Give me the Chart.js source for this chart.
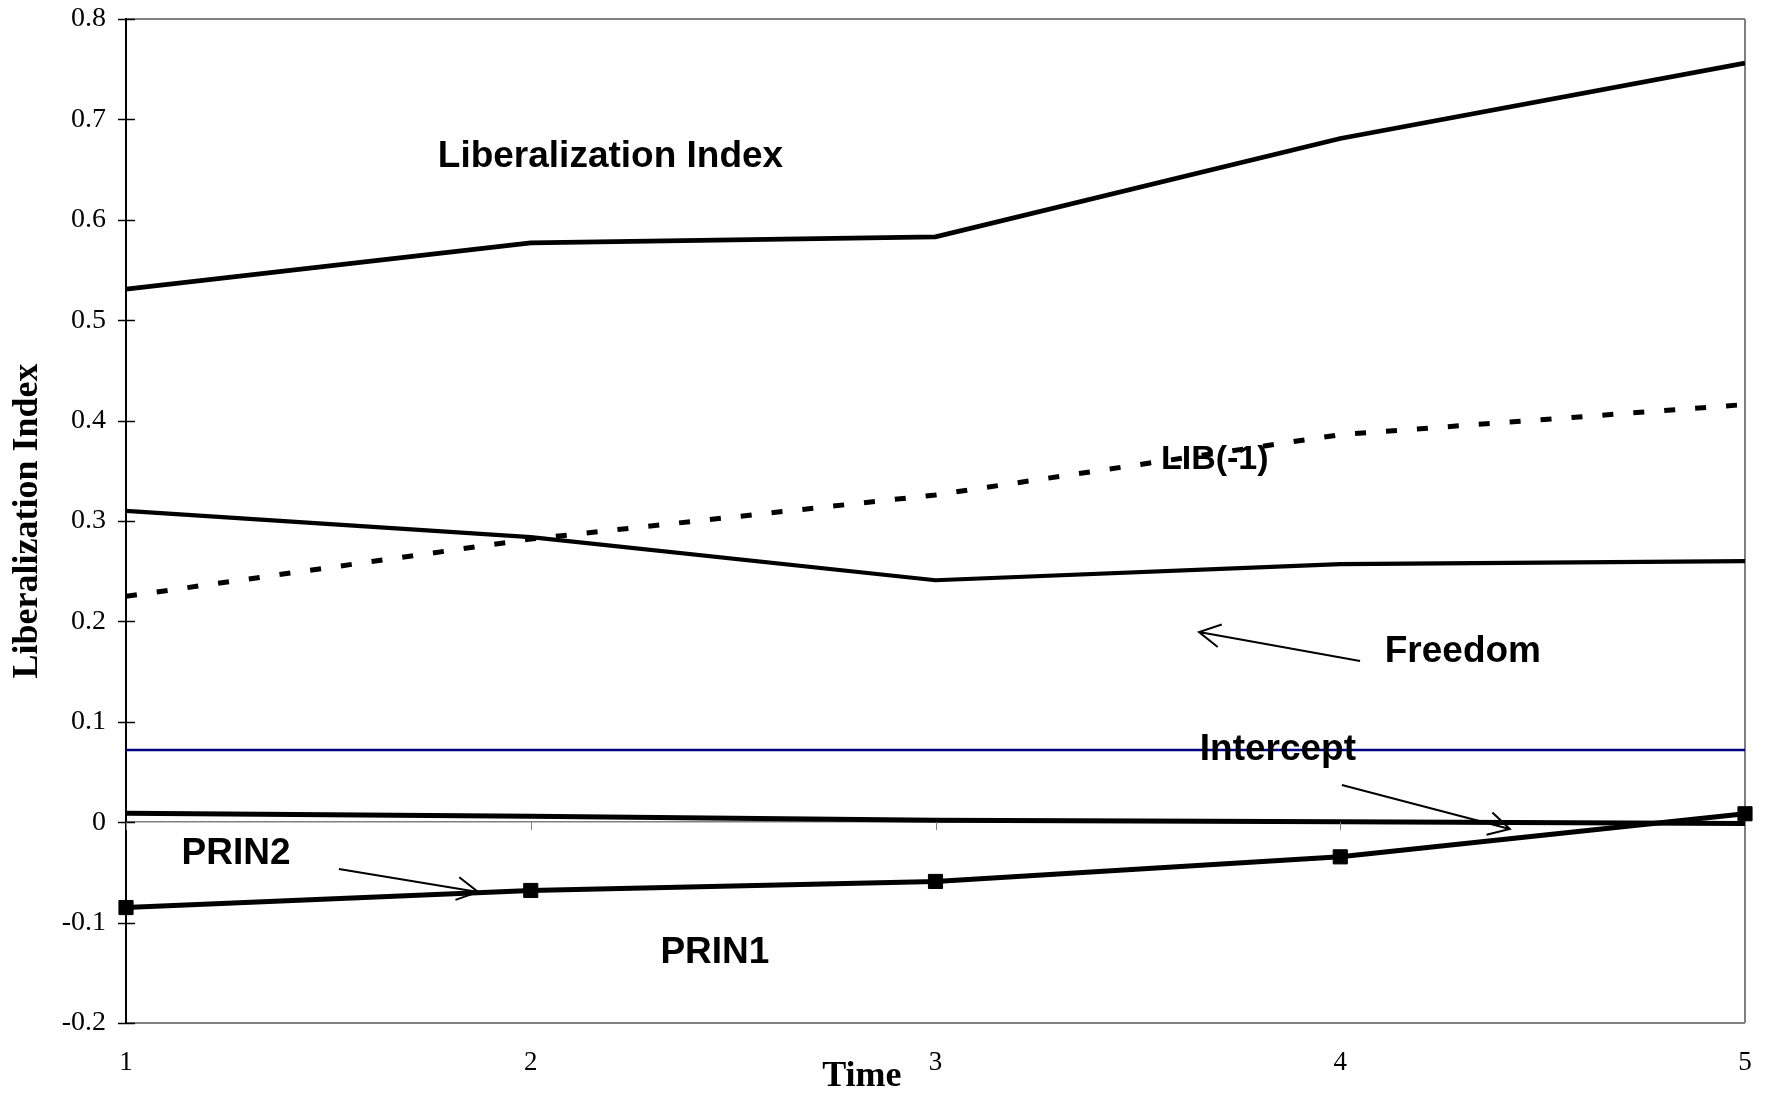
<!DOCTYPE html>
<html>
<head>
<meta charset="utf-8">
<script src="https://cdn.jsdelivr.net/npm/chart.js@4.4.1/dist/chart.umd.min.js"></script>
<style>
  html, body { margin: 0; padding: 0; background: #fff; }
  canvas { display: block; }
</style>
</head>
<body>
<canvas id="libChart" width="1765" height="1093"></canvas>
<script>
// data
const timeSteps = [1, 2, 3, 4, 5];
const timeLabels = ["1", "2", "3", "4", "5"];
const libIndex = [0.531, 0.577, 0.583, 0.681, 0.756];
const libLag = [0.225, 0.282, 0.326, 0.386, 0.416];
const freedom = [0.310, 0.284, 0.241, 0.257, 0.260];
const intercept = [0.072, 0.072, 0.072, 0.072, 0.072];
const prin2 = [0.009, 0.006, 0.002, 0.0005, -0.0013];
const prin1 = [-0.085, -0.068, -0.059, -0.0345, 0.0084];
const yTickValues = [-0.2, -0.1, 0, 0.1, 0.2, 0.3, 0.4, 0.5, 0.6, 0.7, 0.8];
const yTickLabels = ["-0.2", "-0.1", "0", "0.1", "0.2", "0.3", "0.4", "0.5", "0.6", "0.7", "0.8"];

const serif = "'Liberation Serif', 'Times New Roman', serif";
const sans = "'Liberation Sans', Arial, sans-serif";

// labels and arrows placed in data units
const notes = [
  { text: "Liberalization Index", x: 2.197, y: 0.6625, size: 37 },
  { text: "LIB(-1)", x: 3.69, y: 0.361, size: 34 },
  { text: "Freedom", x: 4.303, y: 0.1695, size: 37 },
  { text: "Intercept", x: 3.846, y: 0.072, size: 37 },
  { text: "PRIN2", x: 1.272, y: -0.0317, size: 37 },
  { text: "PRIN1", x: 2.455, y: -0.130, size: 37 },
];
const arrows = [
  { from: [4.049, 0.1606], to: [3.651, 0.1894] },
  { from: [4.004, 0.0371], to: [4.419, -0.0068] },
  { from: [1.526, -0.0466], to: [1.870, -0.0695] },
];

function pts(values) {
  return values.map((v, i) => ({ x: timeSteps[i], y: v }));
}

function near(a, b) {
  return Math.abs(a - b) < 1e-6;
}

const overlay = {
  id: "overlay",
  afterDraw(chart) {
    const { ctx, chartArea } = chart;
    const x = chart.scales.x;
    const y = chart.scales.y;
    ctx.save();

    // value axis ticks crossing the axis
    ctx.strokeStyle = "#000";
    ctx.lineWidth = 1.5;
    yTickValues.forEach(v => {
      const py = Math.round(y.getPixelForValue(v)) + 0.5;
      ctx.beginPath();
      ctx.moveTo(chartArea.left - 8, py);
      ctx.lineTo(chartArea.left + 9, py);
      ctx.stroke();
    });

    // category ticks hanging from the zero line
    ctx.strokeStyle = "#808080";
    ctx.lineWidth = 1;
    const y0 = y.getPixelForValue(0);
    timeSteps.forEach(t => {
      const px = Math.round(x.getPixelForValue(t)) + 0.5;
      ctx.beginPath();
      ctx.moveTo(px, y0);
      ctx.lineTo(px, y0 + 8);
      ctx.stroke();
    });

    // arrows
    ctx.strokeStyle = "#000";
    ctx.lineWidth = 2;
    arrows.forEach(a => {
      const x1 = x.getPixelForValue(a.from[0]), y1 = y.getPixelForValue(a.from[1]);
      const x2 = x.getPixelForValue(a.to[0]), y2 = y.getPixelForValue(a.to[1]);
      const ang = Math.atan2(y1 - y2, x1 - x2);
      ctx.beginPath();
      ctx.moveTo(x1, y1);
      ctx.lineTo(x2, y2);
      ctx.moveTo(x2 + 24 * Math.cos(ang - 0.5), y2 + 24 * Math.sin(ang - 0.5));
      ctx.lineTo(x2, y2);
      ctx.lineTo(x2 + 24 * Math.cos(ang + 0.5), y2 + 24 * Math.sin(ang + 0.5));
      ctx.stroke();
    });

    // text labels
    ctx.fillStyle = "#000";
    ctx.textAlign = "center";
    ctx.textBaseline = "middle";
    notes.forEach(n => {
      ctx.font = "bold " + n.size + "px " + sans;
      ctx.fillText(n.text, x.getPixelForValue(n.x), y.getPixelForValue(n.y));
    });

    // category axis title
    ctx.font = "bold 36px " + serif;
    ctx.fillText("Time", x.getPixelForValue(2.818), chartArea.bottom + 54);
    ctx.restore();
  }
};

new Chart(document.getElementById("libChart").getContext("2d"), {
  type: "line",
  data: {
    datasets: [
      { label: "PRIN1", data: pts(prin1), borderColor: "#000", backgroundColor: "#000",
        borderWidth: 5, pointStyle: "rect", pointRadius: 10, pointBorderWidth: 1, clip: false },
      { label: "PRIN2", data: pts(prin2), borderColor: "#000", borderWidth: 5, pointRadius: 0 },
      { label: "Intercept", data: pts(intercept), borderColor: "#000080", borderWidth: 2.5, pointRadius: 0 },
      { label: "Freedom", data: pts(freedom), borderColor: "#000", borderWidth: 4.2, pointRadius: 0 },
      { label: "LIB(-1)", data: pts(libLag), borderColor: "#000", borderWidth: 5,
        borderDash: [11, 20], pointRadius: 0 },
      { label: "Liberalization Index", data: pts(libIndex), borderColor: "#000", borderWidth: 4.7, pointRadius: 0 },
    ],
  },
  options: {
    responsive: false,
    animation: false,
    devicePixelRatio: 1,
    layout: { padding: { top: 19, right: 20, left: 0, bottom: 0 } },
    elements: { line: { tension: 0 } },
    plugins: {
      legend: { display: false },
      tooltip: { enabled: false },
    },
    scales: {
      x: {
        type: "linear",
        min: 1,
        max: 5,
        afterBuildTicks: s => { s.ticks = timeSteps.map(v => ({ value: v })); },
        afterFit: s => { s.height = 70; s.paddingLeft = 0; s.paddingRight = 0; },
        ticks: {
          callback: (v) => timeLabels[timeSteps.indexOf(v)],
          color: "#000",
          font: { family: serif, size: 27 },
          padding: 24,
          maxRotation: 0,
        },
        grid: {
          drawTicks: false,
          color: c => (c.tick && near(c.tick.value, 5) ? "#808080" : "rgba(0,0,0,0)"),
          lineWidth: 2,
        },
        border: { display: false },
      },
      y: {
        min: -0.2,
        max: 0.8,
        afterBuildTicks: s => { s.ticks = yTickValues.map(v => ({ value: v })); },
        afterFit: s => { s.width = 126; s.paddingTop = 0; s.paddingBottom = 0; },
        ticks: {
          callback: (v) => yTickLabels[yTickValues.findIndex(t => near(t, v))],
          color: "#000",
          font: { family: serif, size: 28 },
          padding: 20,
        },
        grid: {
          drawTicks: false,
          color: c => {
            const v = c.tick ? c.tick.value : NaN;
            return near(v, 0.8) || near(v, -0.2) || near(v, 0) ? "#808080" : "rgba(0,0,0,0)";
          },
          lineWidth: c => (c.tick && near(c.tick.value, 0) ? 1.5 : 2),
        },
        border: { display: true, color: "#000", width: 2 },
        title: {
          display: true,
          text: "Liberalization Index",
          color: "#000",
          font: { family: serif, size: 36, weight: "bold" },
          padding: { top: 6, bottom: 0 },
        },
      },
    },
  },
  plugins: [overlay],
});
</script>
</body>
</html>
